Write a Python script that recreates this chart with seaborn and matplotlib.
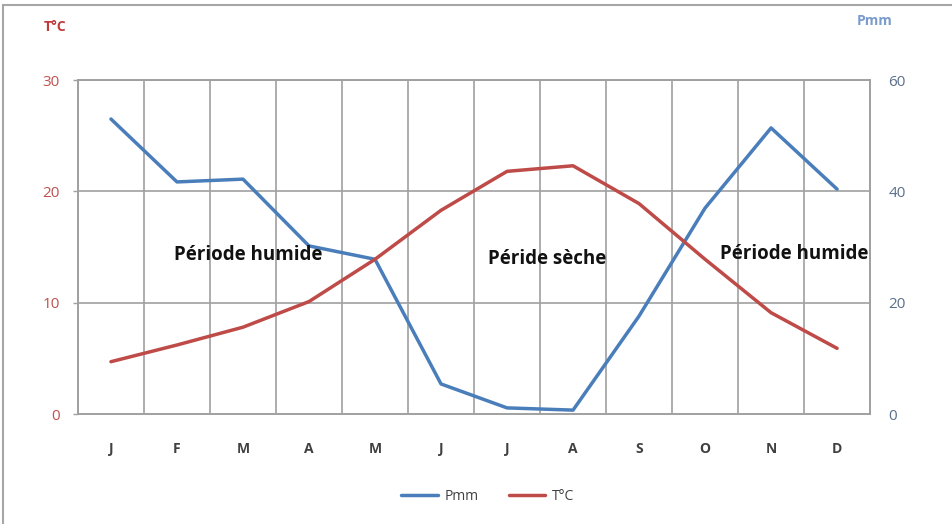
import matplotlib
matplotlib.use("Agg")
import matplotlib.pyplot as plt
import seaborn as sns
import pandas as pd
from matplotlib.patches import Rectangle

months = ["J", "F", "M", "A", "M", "J", "J", "A", "S", "O", "N", "D"]
temp_c = [4.7, 6.2, 7.8, 10.1, 13.9, 18.3, 21.8, 22.3, 18.9, 13.9, 9.1, 5.9]
precip_mm = [53.0, 41.7, 42.2, 30.2, 27.8, 5.4, 1.1, 0.7, 17.6, 37.0, 51.4, 40.4]
annotations = ["Période humide", "Péride sèche", "Période humide"]

sns.set_theme(style="white")
plt.rcParams['font.family'] = ['Open Sans', 'DejaVu Sans']

blue = "#4a7ebb"
red = "#be4b48"

df = pd.DataFrame({"idx": range(12), "month": months, "T": temp_c, "P": precip_mm})

fig = plt.figure(figsize=(9.53, 5.24), dpi=100)
fig.patches.append(Rectangle((0.003, -0.01), 1.2, 1.0, transform=fig.transFigure,
                             fill=False, edgecolor="#a6a6a6", linewidth=1.5))
ax = fig.add_axes([0.0818, 0.2099, 0.8312, 0.6373])
ax2 = ax.twinx()

sns.lineplot(data=df, x="idx", y="P", ax=ax2, color=blue, linewidth=2.5, label="Pmm", legend=False)
sns.lineplot(data=df, x="idx", y="T", ax=ax, color=red, linewidth=2.5, label="T°C", legend=False)
ax.set_zorder(ax2.get_zorder() + 1)
ax.patch.set_visible(False)

ax.set_xlim(-0.5, 11.5)
ax.set_ylim(0, 30)
ax2.set_ylim(0, 60)
ax.set_yticks([0, 10, 20, 30])
ax2.set_yticks([0, 20, 40, 60])
ax.set_xticks(range(12))
ax.set_xticklabels(months)

# grid
for b in [i + 0.5 for i in range(-1, 12)]:
    ax2.axvline(b, color="#a0a0a0", linewidth=1.2, zorder=0)
for v in [10, 20, 30]:
    ax2.axhline(v * 2, color="#a0a0a0", linewidth=1.2, zorder=0)

for a in (ax, ax2):
    for s in a.spines.values():
        s.set_color("#a0a0a0")
        s.set_linewidth(1.2)

ax.tick_params(axis="y", labelsize=11, length=3.6, width=1, pad=9.5, color="#a0a0a0")
ax2.tick_params(axis="y", labelsize=11, length=0, width=1, pad=13)
ax.tick_params(axis="x", labelsize=10, length=0, pad=20, labelcolor="#404040")
for t in ax.get_yticklabels():
    t.set_color("#c0504d")
for t in ax2.get_yticklabels():
    t.set_color("#5a6f8c")
for t in ax.get_xticklabels():
    t.set_fontweight("bold")

# x boundary ticks
ax.set_xticks([i + 0.5 for i in range(-1, 12)], minor=True)
ax.tick_params(axis="x", which="minor", length=4, color="#a0a0a0", width=1)

ax.set_ylabel("")
ax2.set_ylabel("")
ax.set_xlabel("")
fig.text(0.058, 0.948, "T°C", color="#c0393b", fontsize=10, fontweight="bold", ha="center", va="center")
fig.text(0.918, 0.960, "Pmm", color="#7a9ccc", fontsize=10, fontweight="bold", ha="center", va="center")

ax.text(2.08, 14.3, annotations[0], fontsize=13.5, fontweight="bold", ha="center", va="center", color="#111111")
ax.text(6.6, 13.9, annotations[1], fontsize=13.5, fontweight="bold", ha="center", va="center", color="#111111")
ax.text(10.35, 14.4, annotations[2], fontsize=13.5, fontweight="bold", ha="center", va="center", color="#111111")

h1, l1 = ax2.get_legend_handles_labels()
h2, l2 = ax.get_legend_handles_labels()
fig.legend(h1 + h2, l1 + l2, loc="center", bbox_to_anchor=(0.512, 0.052), ncol=2, frameon=False,
           fontsize=10, handlelength=2.6, handletextpad=0.5, columnspacing=2.2, labelcolor="#404040")

fig.savefig("out.png", dpi=100)
